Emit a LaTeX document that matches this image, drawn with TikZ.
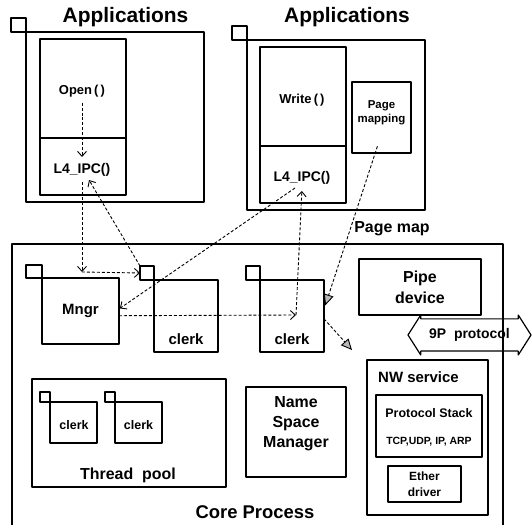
\documentclass[tikz,border=0pt]{standalone}
\usepackage{fontspec}
\setmainfont{Liberation Sans}
\usepackage{tikz}
\usetikzlibrary{arrows.meta,shapes.arrows}

\tikzset{
  box/.style={draw, rectangle, line width=1.2bp, inner sep=0pt, outer sep=0pt},
  tick/.style={draw, rectangle, line width=1.2bp, minimum size=14bp, inner sep=0pt, outer sep=0pt, anchor=south east},
  smalltick/.style={tick, minimum size=10bp},
  call/.style={densely dashed, line width=0.9bp, -{Straight Barb[length=5bp,width=9bp]}},
  map/.style={densely dashed, line width=0.9bp, -{Triangle[length=11bp,width=10bp,fill=gray!55]}},
}
\newcommand\fsz[1]{\fontsize{#1}{#1}\selectfont\bfseries}

\begin{document}
\begin{tikzpicture}[line join=bevel]
\useasboundingbox (0bp,0bp) rectangle (532bp,525bp);
%% boxes
\begin{scope}
  \node (app1) at (115bp,408bp) [box, minimum width=178bp, minimum height=170bp] {};
  \node (call1) at (83bp,436.5bp) [box, minimum width=86bp, minimum height=99bp] {};
  \node (ipc1) at (83bp,358.5bp) [box, minimum width=86bp, minimum height=57bp] {};
  \node (app2) at (336bp,400bp) [box, minimum width=178bp, minimum height=170bp] {};
  \node (call2) at (303bp,428.5bp) [box, minimum width=86bp, minimum height=99bp] {};
  \node (ipc2) at (303bp,350.5bp) [box, minimum width=86bp, minimum height=57bp] {};
  \node (pagemap) at (381.5bp,407.5bp) [box, minimum width=59bp, minimum height=71bp] {};
  \node (core) at (257.5bp,139bp) [box, minimum width=491bp, minimum height=284bp] {};
  \node (Mngr) at (80.5bp,214bp) [box, minimum width=77bp, minimum height=66bp] {};
  \node (clerk1) at (186bp,209bp) [box, minimum width=64bp, minimum height=72bp] {};
  \node (clerk2) at (292bp,209bp) [box, minimum width=64bp, minimum height=72bp] {};
  \node (Pipe device) at (420bp,238bp) [box, minimum width=122bp, minimum height=56bp] {};
  \node (NW service) at (427.5bp,87.5bp) [box, minimum width=121bp, minimum height=155bp] {};
  \node (Protocol Stack) at (429bp,99bp) [box, minimum width=106bp, minimum height=62bp] {};
  \node (Ether driver) at (424.5bp,41bp) [box, minimum width=73bp, minimum height=36bp] {};
  \node (NSM) at (296bp,93bp) [box, minimum width=100bp, minimum height=90bp] {};
  \node (Thread pool) at (129bp,92bp) [box, minimum width=194bp, minimum height=108bp] {};
  \node (clerk3) at (73.5bp,102.5bp) [box, minimum width=47bp, minimum height=41bp] {};
  \node (clerk4) at (138.5bp,102.5bp) [box, minimum width=47bp, minimum height=41bp] {};
  %% thread marks
  \node (app1 tick) at (app1.north west) [tick, minimum width=15bp] {};
  \node (app2 tick) at (app2.north west) [tick, minimum width=15bp] {};
  \node (Mngr tick) at (Mngr.north west) [tick, minimum width=16bp, minimum height=13bp] {};
  \node (clerk1 tick) at (clerk1.north west) [tick] {};
  \node (clerk2 tick) at (clerk2.north west) [tick] {};
  \node (clerk3 tick) at (clerk3.north west) [smalltick] {};
  \node (clerk4 tick) at (clerk4.north west) [smalltick] {};
  \node (9P protocol) at (469.5bp,190bp) [draw, double arrow, line width=1.2bp,
    double arrow head extend=4bp, double arrow tip angle=115, minimum height=123bp,
    inner ysep=9bp, inner xsep=0pt, font=\fsz{14}] {9P\ \ protocol};
\end{scope}
%% texts
\begin{scope}
  \node (Applications1) at (125.5bp,508bp) [font=\fsz{21}] {Applications};
  \node (Applications2) at (347bp,508bp) [font=\fsz{21}] {Applications};
  \node (Open) at (82bp,434bp) [font=\fsz{13}] {Open\,(\,)};
  \node (L4 IPC 1) at (82bp,355bp) [font=\fsz{14}] {L4\_IPC()};
  \node (Write) at (302bp,425bp) [font=\fsz{13}] {Write\,(\,)};
  \node (L4 IPC 2) at (302bp,347bp) [font=\fsz{14}] {L4\_IPC()};
  \node (Page mapping) at (381.5bp,412bp) [font=\fsz{11.5}, align=center] {Page\\[3bp]mapping};
  \node (Page map) at (392bp,296bp) [font=\fsz{16}] {Page map};
  \node (Mngr text) at (80.5bp,214bp) [font=\fsz{15}] {Mngr};
  \node (clerk1 text) at (186bp,186bp) [font=\fsz{15}] {clerk};
  \node (clerk2 text) at (292bp,186bp) [font=\fsz{15}] {clerk};
  \node (Pipe device text) at (420bp,238bp) [font=\fsz{16}, align=center] {Pipe\\[5bp]device};
  \node (NW service text) at (418.5bp,148bp) [font=\fsz{15}] {NW service};
  \node (Protocol Stack text) at (429bp,112bp) [font=\fsz{12.5}] {Protocol Stack};
  \node (TCP text) at (429bp,83bp) [font=\fsz{10.5}] {TCP,UDP, IP, ARP};
  \node (Ether driver text) at (424.5bp,41bp) [font=\fsz{12}, align=center] {Ether\\[4bp]driver};
  \node (NSM text) at (296bp,101.5bp) [font=\fsz{16}, align=center] {Name\\[4bp]Space\\[4bp]Manager};
  \node (clerk3 text) at (74bp,100bp) [font=\fsz{12.5}] {clerk};
  \node (clerk4 text) at (138.5bp,100bp) [font=\fsz{12.5}] {clerk};
  \node (Thread pool text) at (128bp,50bp) [font=\fsz{16}] {Thread\ \ pool};
  \node (Core Process) at (255bp,13bp) [font=\fsz{18.5}] {Core Process};
\end{scope}
%% connectors
\coordinate (fork) at (82bp,253bp);
\coordinate (clerk2 in) at (296bp,210bp);
\coordinate (nw link) at (352bp,175bp);
\begin{scope}
  \draw [call, shorten <=2bp, shorten >=3bp] (Open.south) -- (L4 IPC 1.north);
  \draw [call, shorten <=2bp] (L4 IPC 1.south) -- (fork);
  \draw [call] (fork) -- (clerk1 tick.west);
  \draw [call] (clerk1 tick.north west) -- (L4 IPC 1.-55);
  \draw [call, shorten >=1bp] (L4 IPC 2.-125) -- (Mngr.3);
  \draw [call] (Mngr.-7) -- (clerk2 in);
  \draw [call, shorten >=3bp] (clerk2 in) -- (L4 IPC 2.south);
  \draw [map, shorten <=-7bp, shorten >=4bp] (pagemap.-100) -- (clerk2.12);
  \draw [map] (clerk2.-5) -- (nw link);
\end{scope}
%
\end{tikzpicture}
\end{document}
